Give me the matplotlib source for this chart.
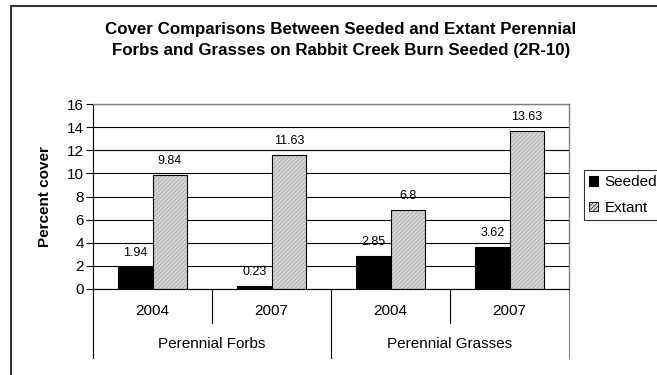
import matplotlib
matplotlib.use("Agg")
import matplotlib.pyplot as plt
from matplotlib.patches import Rectangle
from matplotlib.transforms import blended_transform_factory
import numpy as np

plt.rcParams['font.family'] = ['Liberation Sans', 'DejaVu Sans']
plt.rcParams['hatch.linewidth'] = 0.4

title = ("Cover Comparisons Between Seeded and Extant Perennial\n"
         "Forbs and Grasses on Rabbit Creek Burn Seeded (2R-10)")
groups = ["Perennial Forbs", "Perennial Grasses"]
years = ["2004", "2007", "2004", "2007"]
seeded = [1.94, 0.23, 2.85, 3.62]
extant = [9.84, 11.63, 6.8, 13.63]
seeded_labels = ["1.94", "0.23", "2.85", "3.62"]
extant_labels = ["9.84", "11.63", "6.8", "13.63"]
yticks = [0, 2, 4, 6, 8, 10, 12, 14, 16]

W, H = 657, 375
fig = plt.figure(figsize=(W / 100, H / 100), dpi=100)

# outer chart-area border (left and top visible)
fig.patches.append(Rectangle((11 / W, -0.05), 1.2, (H - 6) / H + 0.05,
                             transform=fig.transFigure, fill=False,
                             edgecolor="#333333", linewidth=1.5))

ax = fig.add_axes([93 / W, (H - 289) / H, 476 / W, 185 / H])

n = len(years)
centers = np.arange(n) + 0.5
bw = 0.29
b1 = ax.bar(centers - bw / 2, seeded, bw, color="black", edgecolor="black",
            linewidth=0.8, label="Seeded", zorder=2)
# fine gray stipple fill, outlined in black afterwards
b2 = ax.bar(centers + bw / 2, extant, bw, color="#d4d4d4", edgecolor="#9a9a9a",
            hatch="////////", linewidth=0, label="Extant", zorder=2)
for r in b2:
    ax.add_patch(Rectangle((r.get_x(), r.get_y()), r.get_width(),
                           r.get_height(), fill=False, edgecolor="black",
                           linewidth=0.8, zorder=3))

for rect, lab in zip(b1, seeded_labels):
    ax.annotate(lab, (rect.get_x() + rect.get_width() / 2, rect.get_height()),
                xytext=(0, 8), textcoords="offset pixels", ha="center",
                va="bottom", fontsize=9)
for rect, lab in zip(b2, extant_labels):
    ax.annotate(lab, (rect.get_x() + rect.get_width() / 2, rect.get_height()),
                xytext=(0, 8), textcoords="offset pixels", ha="center",
                va="bottom", fontsize=9)

ax.set_xlim(0, n)
ax.set_ylim(0, 16)
ax.set_yticks(yticks)
ax.tick_params(axis="y", labelsize=11, length=5, width=0.8, pad=1.5)
ax.set_xticks([])
ax.set_axisbelow(True)
ax.yaxis.grid(True, color="black", linewidth=0.8)
for s in ["top", "right"]:
    ax.spines[s].set_color("#808080")
    ax.spines[s].set_linewidth(1.0)
for s in ["left", "bottom"]:
    ax.spines[s].set_color("black")
    ax.spines[s].set_linewidth(0.8)

ax.set_ylabel("Percent cover", fontsize=11, fontweight="bold", labelpad=11)

# two-level category axis
tr = blended_transform_factory(ax.transData, ax.transAxes)
ph = 185.0
for i in range(n + 1):
    depth = 69 if i % 2 == 0 else 34
    col = "#808080" if i == n else "black"
    ax.plot([i, i], [0, -depth / ph], transform=tr, color=col,
            linewidth=0.8, clip_on=False)
for c, y in zip(centers, years):
    ax.text(c, -22 / ph, y, transform=tr, ha="center", va="center", fontsize=11)
for g, name in enumerate(groups):
    ax.text(2 * g + 1, -55 / ph, name, transform=tr, ha="center",
            va="center", fontsize=11)

fig.text(341 / W, 1 - 40 / H, title, ha="center", va="center",
         fontsize=12.2, fontweight="bold", linespacing=1.45)

# legend handles take the fill style of each series
h_extant = Rectangle((0, 0), 1, 1, facecolor="#d4d4d4", edgecolor="black",
                     hatch="////////", linewidth=0.6)
leg = fig.legend(handles=[b1, h_extant], labels=["Seeded", "Extant"],
                 loc="upper left", bbox_to_anchor=(584 / W, 1 - 170 / H),
                 fontsize=11, frameon=True, fancybox=False,
                 edgecolor="black", handlelength=0.55, handleheight=0.55,
                 handletextpad=0.45, borderpad=0.35, labelspacing=0.75,
                 borderaxespad=0)
leg.get_frame().set_linewidth(0.8)

fig.savefig("out.png", dpi=100)
